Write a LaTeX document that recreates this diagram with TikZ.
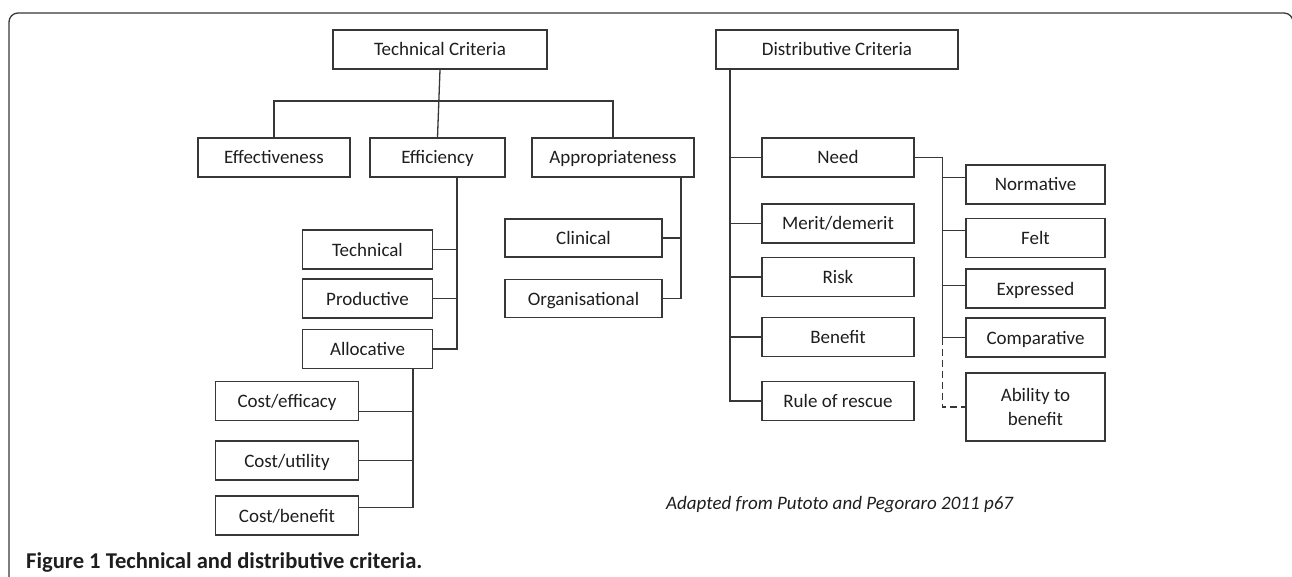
\documentclass[tikz,border=0pt]{standalone}
\usepackage{fontspec}
\setmainfont{Carlito}
\usetikzlibrary{positioning}

\definecolor{boxline}{RGB}{55,55,55}
\definecolor{boxtext}{RGB}{30,30,30}

\tikzset{
    critbox/.style={draw=boxline, line width=1.3pt, minimum height=39pt, inner sep=0pt,
        text=boxtext, font=\fontsize{19}{24}\selectfont},
    crit/.style={critbox, text height=15.5pt, text depth=2.5pt},
    wire/.style={draw=boxline, line width=1.3pt},
    maybe/.style={wire, dash pattern=on 7pt off 4pt}
}

\begin{document}
\begin{tikzpicture}[x=1pt, y=-1pt, on grid]
    \useasboundingbox (0,0) rectangle (1292,577);
    % frame
    \draw[wire, rounded corners=9pt] (9,600) -- (9,13) -- (1293,13) -- (1293,600);

    % technical side
    \node[crit, minimum width=214pt] (tc) at (440,49.5) {Technical Criteria};
    \node[crit, minimum width=135pt] (effi) [below left=108pt and 2.5pt of tc] {Efficiency};
    \node[crit, minimum width=152pt] (eff) [left=163.5pt of effi] {Effectiveness};
    \node[crit, minimum width=162pt] (appr) [right=175.5pt of effi] {Appropriateness};
    \node[crit, minimum width=130pt] (techn) [below left=92pt and 70pt of effi] {Technical};
    \node[crit, minimum width=130pt] (prod) [below=49pt of techn] {Productive};
    \node[crit, minimum width=130pt] (alloc) [below=50.5pt of prod] {Allocative};
    \node[crit, minimum width=143pt] (cef) [below left=52pt and 80.5pt of alloc] {Cost/efficacy};
    \node[crit, minimum width=143pt] (cut) [below=59.5pt of cef] {Cost/utility};
    \node[crit, minimum width=143pt] (cbe) [below=55pt of cut] {Cost/benefit};
    \node[crit, minimum width=157pt, minimum height=38pt] (clin) [below left=80.5pt and 29.5pt of appr] {Clinical};
    \node[crit, minimum width=157pt, minimum height=38pt] (org) [below=60.5pt of clin] {Organisational};

    % distributive side
    \node[crit, minimum width=242pt] (dc) [right=397pt of tc] {Distributive Criteria};
    \node[crit, minimum width=152pt] (need) [below right=108pt and 1pt of dc] {Need};
    \node[crit, minimum width=152pt] (merit) [below=66pt of need] {Merit/demerit};
    \node[crit, minimum width=152pt] (risk) [below=53.5pt of merit] {Risk};
    \node[crit, minimum width=152pt] (benefit) [below=60pt of risk] {Benefit};
    \node[crit, minimum width=152pt] (rescue) [below=64pt of benefit] {Rule of rescue};
    \node[crit, minimum width=139pt] (norm) [below right=27pt and 197.5pt of need] {Normative};
    \node[crit, minimum width=139pt] (felt) [below=53.5pt of norm] {Felt};
    \node[crit, minimum width=139pt] (expr) [below=50.5pt of felt] {Expressed};
    \node[crit, minimum width=139pt] (comp) [below=49pt of expr] {Comparative};
    \node[critbox, minimum width=139pt, minimum height=68pt, align=center] (able) [below=69.5pt of comp] {Ability to\\benefit};

    % joints
    \coordinate[below=51.5pt of tc] (bus);
    \coordinate (effidrop) at ([xshift=19.5pt]effi.south);
    \coordinate (apprdrop) at ([xshift=68pt]appr.south);
    \coordinate (allocdrop) at ([xshift=45.5pt]alloc.south);
    \coordinate (dcdrop) at ([xshift=-107pt]dc.south);
    \coordinate (needjog) at ([xshift=28pt]need.east);

    % connectors
    \draw[wire] (tc.south) -- (effi.north);
    \draw[wire] (eff.north) |- (bus) -| (appr.north);
    \draw[wire] (effidrop) |- (alloc.east);
    \draw[wire] (techn.east) -- (techn.east -| effidrop);
    \draw[wire] (prod.east) -- (prod.east -| effidrop);
    \draw[wire] (apprdrop) |- (org.east);
    \draw[wire] (clin.east) -- (clin.east -| apprdrop);
    \draw[wire] (allocdrop) |- ([yshift=7.8pt]cbe.east);
    \draw[wire] ([yshift=-10.7pt]cef.east) -- ([yshift=-10.7pt]cef.east -| allocdrop);
    \draw[wire] (cut.east) -- (cut.east -| allocdrop);
    \draw[wire] (dcdrop) |- (rescue.west);
    \foreach \n in {need, merit, risk, benefit}
        \draw[wire] (\n.west) -- (\n.west -| dcdrop);
    \draw[wire] (need.east) -- (needjog) |- (comp.west);
    \draw[wire] ([yshift=7.2pt]norm.west) -- ([yshift=7.2pt]norm.west -| needjog);
    \draw[wire] ([yshift=7.7pt]felt.west) -- ([yshift=7.7pt]felt.west -| needjog);
    \draw[wire] ([yshift=2.8pt]expr.west) -- ([yshift=2.8pt]expr.west -| needjog);
    \draw[maybe] (comp.west -| needjog) |- (able.west);

    % texts
    \node[anchor=west, inner sep=0pt, text=boxtext, font=\itshape\fontsize{19}{24}\selectfont] (src) at (666,505) {Adapted from Putoto and Pegoraro 2011 p67};
    \node[anchor=west, inner sep=0pt, text=boxtext, font=\bfseries\fontsize{22.6}{26}\selectfont] (fig) at (26,562) {Figure 1 Technical and distributive criteria.};
\end{tikzpicture}
\end{document}
